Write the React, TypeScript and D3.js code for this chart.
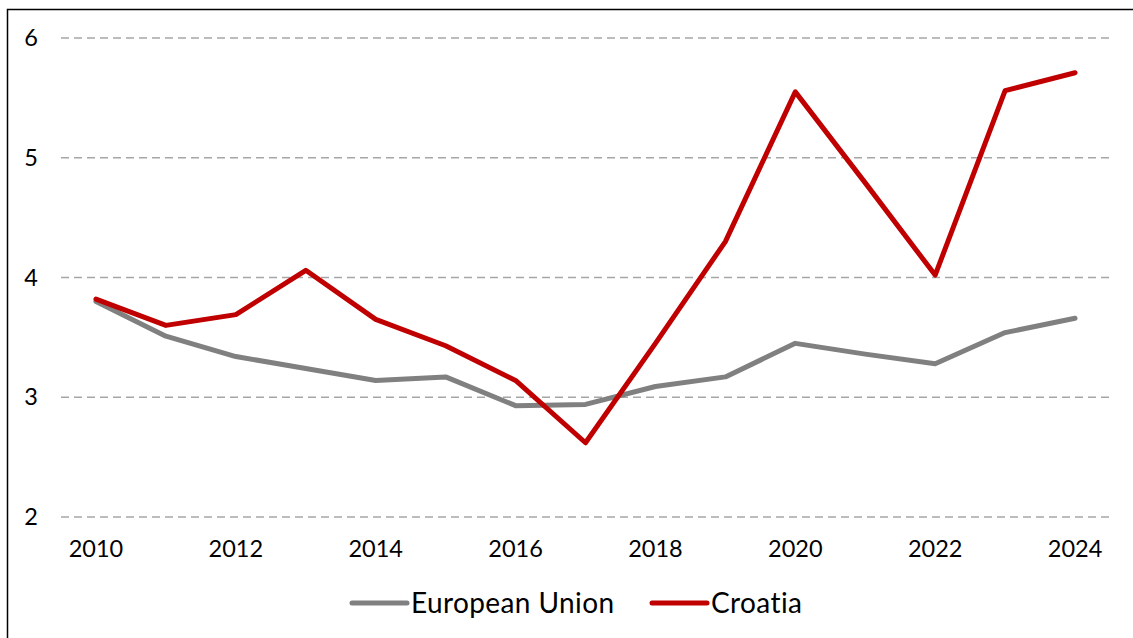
import React, { useEffect, useRef } from 'react';
import * as d3 from 'd3';

const years = ['2010', '2011', '2012', '2013', '2014', '2015', '2016', '2017', '2018', '2019', '2020', '2021', '2022', '2023', '2024'];
const euValues = [3.8, 3.51, 3.34, 3.24, 3.14, 3.17, 2.93, 2.94, 3.09, 3.17, 3.45, 3.36, 3.28, 3.54, 3.66];
const croatiaValues = [3.82, 3.6, 3.69, 4.06, 3.65, 3.43, 3.14, 2.62, 3.45, 4.3, 5.55, 4.79, 4.02, 5.56, 5.71];
const yTicks = [2, 3, 4, 5, 6];
const xTickLabels = ['2010', '2012', '2014', '2016', '2018', '2020', '2022', '2024'];

const series = [
  { name: 'European Union', values: euValues, color: '#808080' },
  { name: 'Croatia', values: croatiaValues, color: '#C00000' },
];

function App() {
  const ref = useRef<SVGSVGElement>(null);

  useEffect(() => {
    const svg = d3.select(ref.current);
    svg.selectAll('*').remove();

    const width = 1133, height = 638;
    const font = 'Lato, "Noto Sans", sans-serif';

    svg.attr('width', width).attr('height', height)
      .style('display', 'block')
      .style('position', 'absolute')
      .style('left', '0px')
      .style('top', '0px');

    // frame (only left + top visible in the picture)
    svg.append('rect')
      .attr('x', 7.5).attr('y', 9.5)
      .attr('width', width + 20).attr('height', height + 20)
      .attr('fill', 'white').attr('stroke', '#000').attr('stroke-width', 1.5);

    const x = d3.scaleBand().domain(years).range([61, 1110]);
    const y = d3.scaleLinear().domain([2, 6]).range([517, 38]);

    // gridlines
    svg.append('g')
      .selectAll('line')
      .data(yTicks)
      .enter()
      .append('line')
      .attr('x1', 61).attr('x2', 1112)
      .attr('y1', (d) => y(d)).attr('y2', (d) => y(d))
      .attr('stroke', '#a6a6a6')
      .attr('stroke-width', 1.5)
      .attr('stroke-dasharray', '8,5');

    svg.append('g')
      .selectAll('text')
      .data(yTicks)
      .enter()
      .append('text')
      .attr('x', 38)
      .attr('y', (d) => y(d))
      .attr('dy', '0.35em')
      .attr('text-anchor', 'end')
      .style('font-family', font)
      .style('font-size', '23.5px')
      .attr('fill', '#000')
      .text((d) => d);

    svg.append('g')
      .selectAll('text')
      .data(xTickLabels)
      .enter()
      .append('text')
      .attr('x', (d) => x(d)! + x.bandwidth() / 2)
      .attr('y', 557)
      .attr('text-anchor', 'middle')
      .style('font-family', font)
      .style('font-size', '23.5px')
      .attr('fill', '#000')
      .text((d) => d);

    const line = d3.line<number>()
      .x((_, i) => x(years[i])! + x.bandwidth() / 2)
      .y((d) => y(d));

    series.forEach((s) => {
      svg.append('path')
        .datum(s.values)
        .attr('d', line)
        .attr('fill', 'none')
        .attr('stroke', s.color)
        .attr('stroke-width', 5)
        .attr('stroke-linejoin', 'round')
        .attr('stroke-linecap', 'round');
    });

    // legend
    const legendPos = [352, 652];
    series.forEach((s, i) => {
      const g = svg.append('g').attr('transform', `translate(${legendPos[i]},603)`);
      g.append('line')
        .attr('x1', 0).attr('x2', 55)
        .attr('stroke', s.color)
        .attr('stroke-width', 5)
        .attr('stroke-linecap', 'round');
      g.append('text')
        .attr('x', 59)
        .attr('dy', '0.35em')
        .style('font-family', font)
        .style('font-size', '28px')
        .style('letter-spacing', '0.4px')
        .attr('fill', '#000')
        .text(s.name);
    });
  }, []);

  return <svg ref={ref}></svg>;
}

export default App;
